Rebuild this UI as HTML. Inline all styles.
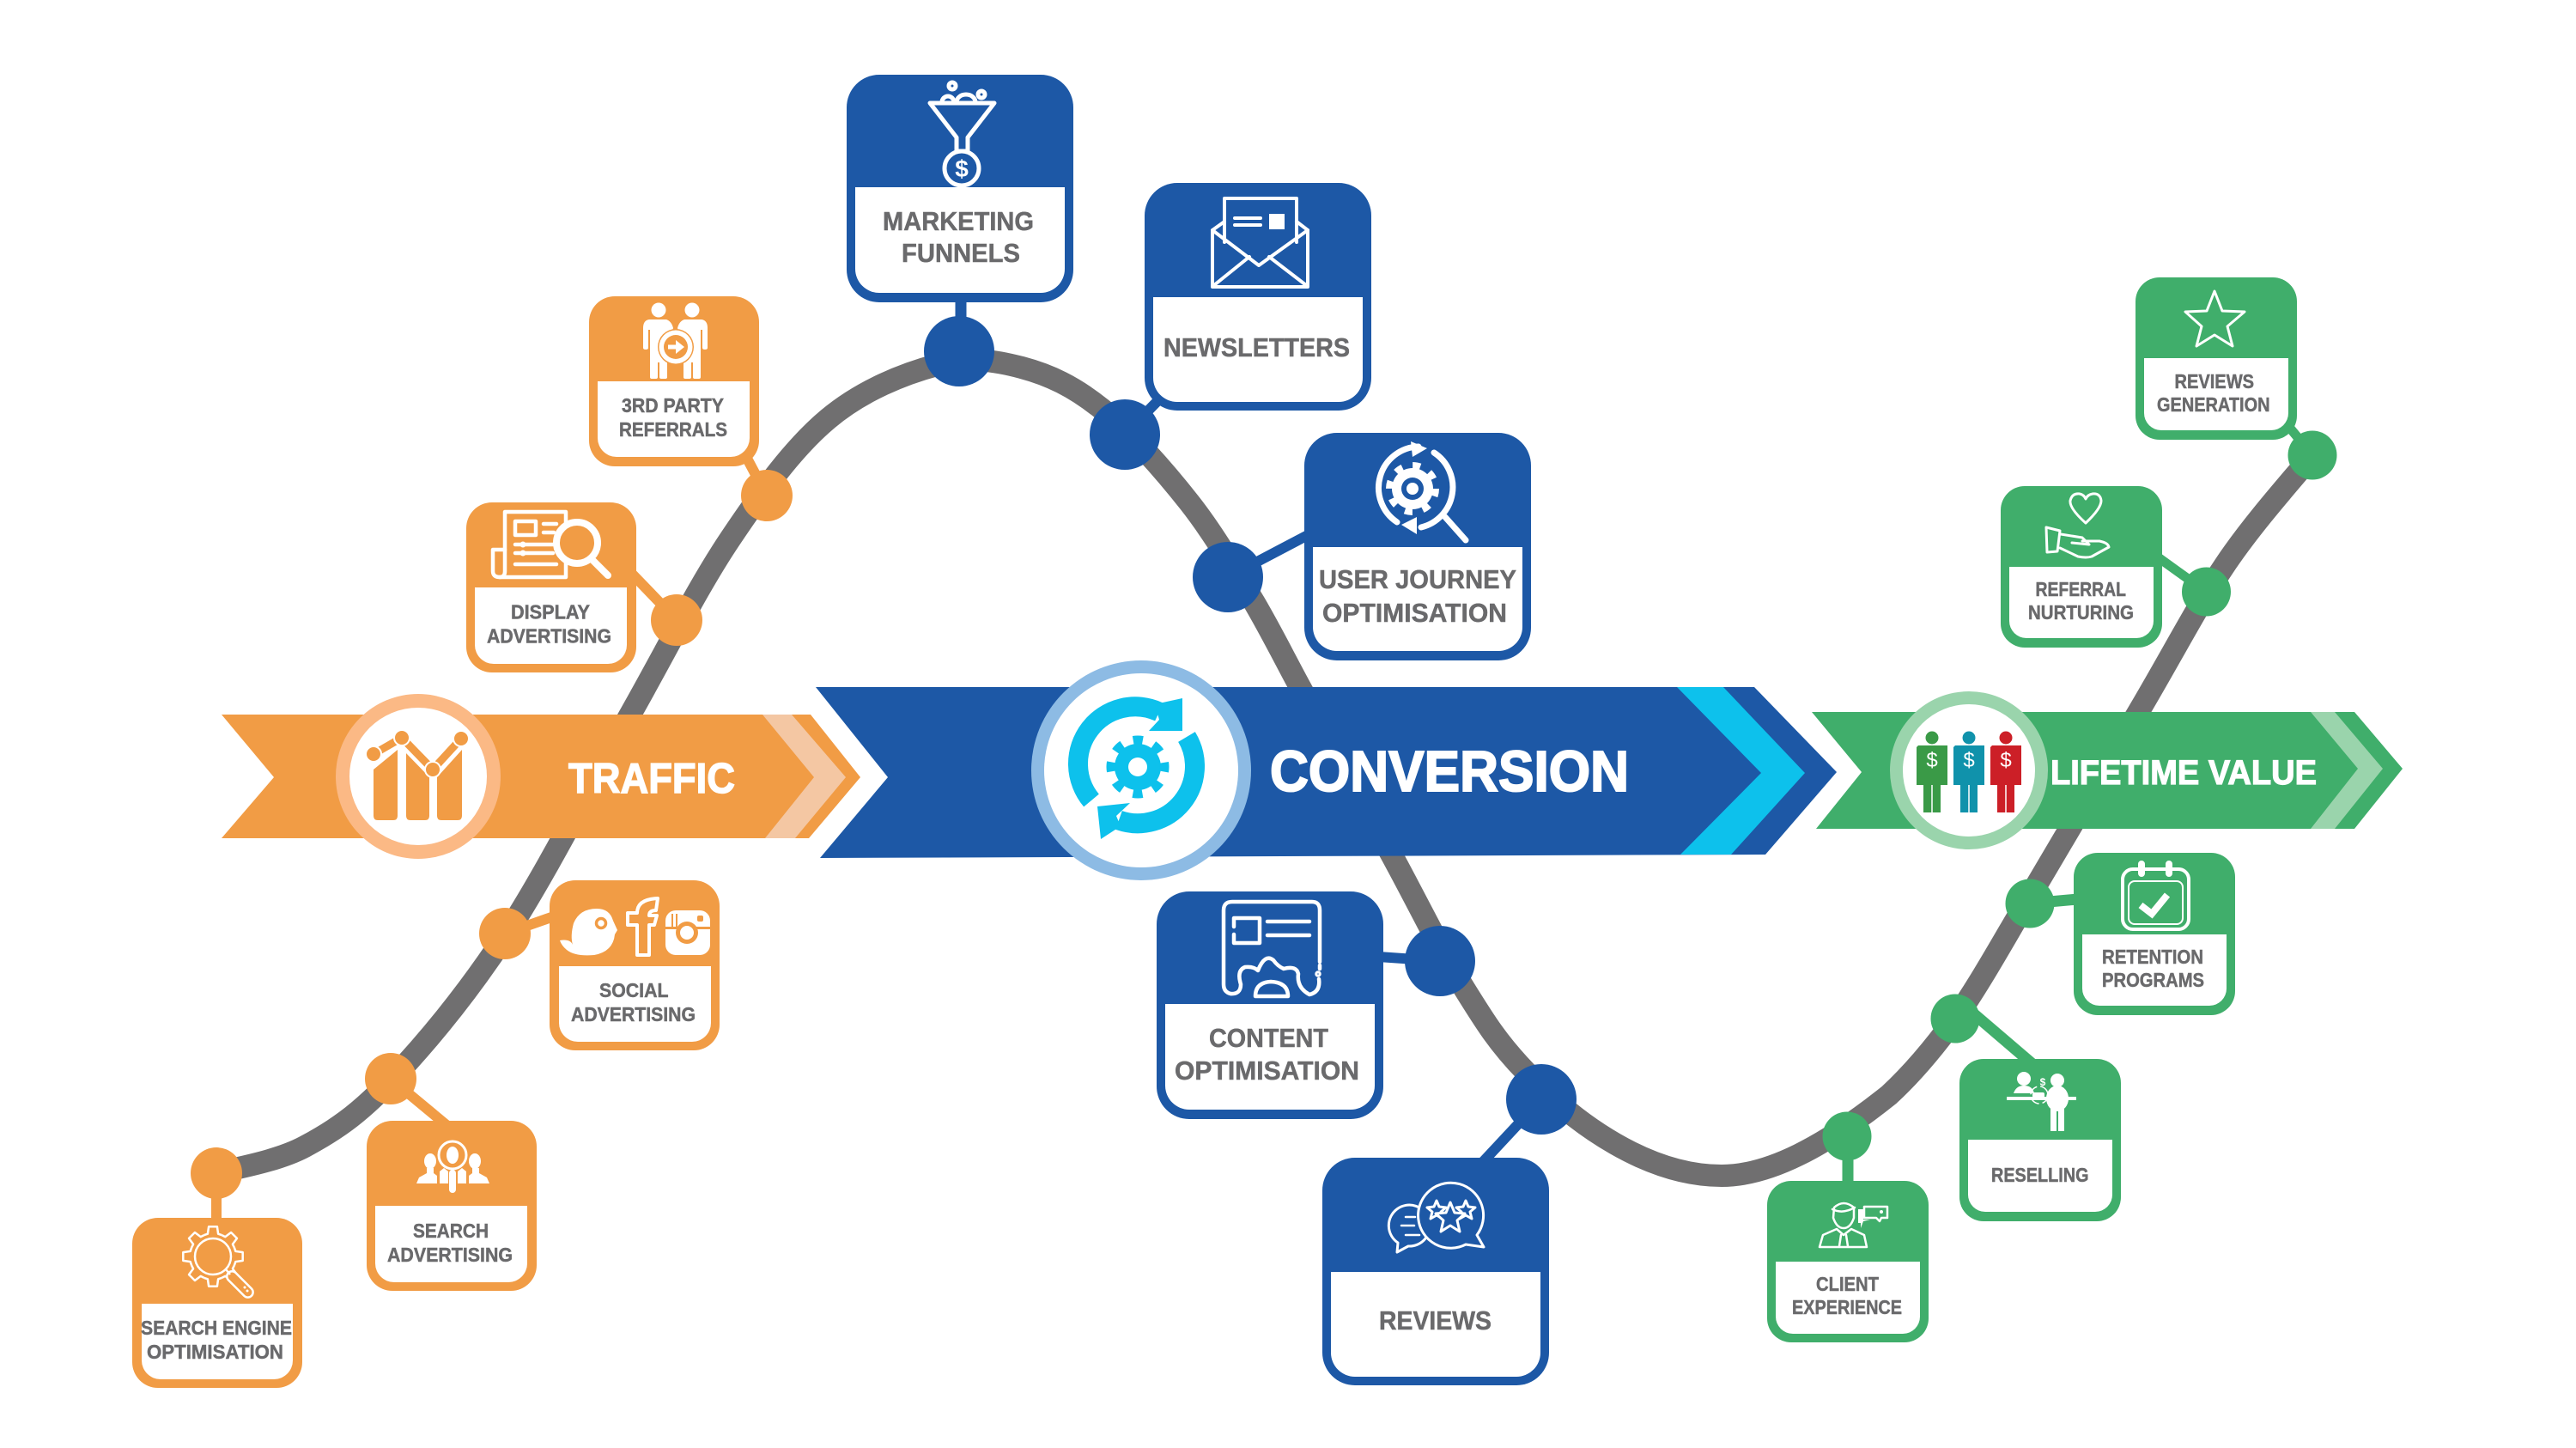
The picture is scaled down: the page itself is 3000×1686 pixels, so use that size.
<!DOCTYPE html>
<html><head><meta charset="utf-8"><style>
html,body{margin:0;padding:0;background:#fff}
svg{display:block}
text{font-family:"Liberation Sans Narrow","Liberation Sans",sans-serif;font-weight:700;fill:#6a6a6c;stroke:#6a6a6c;stroke-width:.5}
text.t{fill:#fff;stroke:#fff;stroke-width:1}
text.d{stroke-width:0}
.w{fill:#fff;stroke:none}
.i{fill:none;stroke:#fff;stroke-linecap:round;stroke-linejoin:round}
.f{fill:#fff;stroke:none}
</style></head><body>
<svg width="3000" height="1686" viewBox="0 0 3000 1686" xmlns="http://www.w3.org/2000/svg">
<rect width="3000" height="1686" fill="#fff"/>
<!-- curve -->
<path fill="none" stroke="#706f70" stroke-width="26" d="M252,1366 C269,1361 321.5,1353 355,1335 C388.5,1317 415.8,1299.3 455,1258 C494.2,1216.7 543.3,1158.3 590,1087 C636.7,1015.7 691.7,906.5 735,830 C778.3,753.5 811.8,685 850,628 C888.2,571 923.8,521.8 964,488 C1004.2,454.2 1053.3,435 1091,425 C1128.7,415 1158,419.5 1190,428 C1222,436.5 1250.5,449.8 1283,476 C1315.5,502.2 1355.3,547.3 1385,585 C1414.7,622.7 1439.5,666.2 1461,702 C1482,738 1495,765 1514,800 C1540.7,849 1589.3,937.8 1621,996 C1652.7,1054.2 1678,1107 1704,1149 C1730,1191 1745,1215 1777,1248 C1835,1310 1920,1369 2005,1369 C2060,1369 2125,1335 2200,1275 C2228.7,1248.5 2252.7,1219.5 2277,1186 C2301,1152 2325,1110 2346,1074 C2381.7,1014.3 2449.8,897.8 2491,828 C2532.2,758.2 2559.3,704.7 2593,655 C2626.7,605.3 2676.3,550.8 2693,530"/>

<!-- banners -->
<polygon fill="#f19c45" points="258,832 944,832 1002,905 942,976 258,976 319,905"/>
<polygon fill="#f4c7a3" points="888,832 922,832 985,905 926,976 891,976 948,905"/>
<polygon fill="#1d58a6" points="950,800 2043,800 2139,899 2056,995 955,999 1034,905"/>
<polygon fill="#0dc1ec" points="1953,800 2007,800 2102,900 2016,995 1957,995 2051,900"/>
<polygon fill="#40ae6b" points="2110,829 2742,829 2798,895 2742,965 2115,965 2168,899"/>
<polygon fill="#9ad4ac" points="2691,829 2719,829 2775,895 2719,965 2691,965 2746,895"/>

<!-- banner circles -->
<circle cx="487" cy="904" r="96" fill="#fbb985"/><circle cx="487" cy="904" r="80" fill="#fff"/>
<circle cx="1329" cy="897" r="128" fill="#8dbbe4"/><circle cx="1329" cy="897" r="113" fill="#fff"/>
<circle cx="2293" cy="897" r="92" fill="#9ad4ac"/><circle cx="2293" cy="897" r="77" fill="#fff"/>

<!-- traffic icon -->
<g fill="#f19c45">
<path d="M435,896 L463,873 V950 Q463,955 458,955 H440 Q435,955 435,950Z"/>
<path d="M473,873 L500,905 V950 Q500,955 495,955 H478 Q473,955 473,950Z"/>
<path d="M509,905 L538,873 V950 Q538,955 533,955 H514 Q509,955 509,950Z"/>
</g>
<polyline points="435,878 468,859 504,896 537,860" fill="none" stroke="#fff" stroke-width="18"/>
<polyline points="435,878 468,859 504,896 537,860" fill="none" stroke="#f19c45" stroke-width="9"/>
<g fill="#f19c45" stroke="#fff" stroke-width="2"><circle cx="435" cy="878" r="9"/><circle cx="468" cy="859" r="9"/><circle cx="504" cy="896" r="9"/><circle cx="537" cy="860" r="9"/></g>

<!-- conversion icon -->
<g fill="none" stroke="#0dc1ec" stroke-width="23">
<path d="M1271,932 A66.5,66.5 0 0 1 1350,829"/>
<path d="M1382,858 A66.5,66.5 0 0 1 1303,955"/>
</g>
<polygon fill="#0dc1ec" points="1377,813 1377,851 1338,851 1350,838 1345,820"/>
<polygon fill="#0dc1ec" points="1278,939 1316,935 1300,950 1305,962 1282,977"/>
<circle cx="1325" cy="893" r="27" fill="#0dc1ec"/>
<circle cx="1325" cy="893" r="31" fill="none" stroke="#0dc1ec" stroke-width="11" stroke-dasharray="11 13.35" stroke-dashoffset="5.5"/>
<circle cx="1325" cy="893" r="11" fill="#fff"/>

<!-- people icon -->
<g>
<g fill="#3a9a47"><circle cx="2250" cy="859" r="7.5"/><path d="M2234,868 H2268 V914 H2260 V946 H2240 V914 H2232 V870Z"/></g>
<g fill="#1092ab"><circle cx="2293" cy="859" r="7.5"/><path d="M2277,868 H2311 V914 H2303 V946 H2283 V914 H2275 V870Z"/></g>
<g fill="#cc1f27"><circle cx="2336" cy="859" r="7.5"/><path d="M2320,868 H2354 V914 H2346 V946 H2326 V914 H2318 V870Z"/></g>
<g stroke="#fff" stroke-width="1.5"><path d="M2250,914 V946 M2293,914 V946 M2336,914 V946"/></g>
<text x="2250" y="893" text-anchor="middle" font-size="24" class="t d" style="font-weight:400;stroke-width:0">$</text>
<text x="2293" y="893" text-anchor="middle" font-size="24" class="t d" style="font-weight:400;stroke-width:0">$</text>
<text x="2336" y="893" text-anchor="middle" font-size="24" class="t d" style="font-weight:400;stroke-width:0">$</text>
</g>

<!-- banner labels -->
<text class="t" x="662" y="923" font-size="49" textLength="194" lengthAdjust="spacingAndGlyphs" style="stroke-width:1.4">TRAFFIC</text>
<text class="t" x="1479" y="921" font-size="67" textLength="418" lengthAdjust="spacingAndGlyphs" style="stroke-width:2">CONVERSION</text>
<text class="t" x="2388" y="913" font-size="40" textLength="310" lengthAdjust="spacingAndGlyphs" style="stroke-width:1.2">LIFETIME VALUE</text>

<!-- connectors -->
<g stroke="#f19c45" stroke-width="12" fill="none">
<path d="M868,530 L893,577"/><path d="M735,667 L788,722"/><path d="M645,1067 L588,1087"/><path d="M520,1310 L455,1256"/><path d="M252,1366 V1425"/>
</g>
<g stroke="#1d58a6" stroke-width="12" fill="none">
<path d="M1119,345 V409" stroke-width="13"/><path d="M1350,465 L1310,506"/><path d="M1525,622 L1430,672"/><path d="M1605,1114 L1677,1119"/><path d="M1725,1355 L1795,1280"/>
</g>
<g stroke="#40ae6b" stroke-width="11" fill="none">
<path d="M2660,490 L2693,530"/><path d="M2512,648 L2569,689"/><path d="M2420,1047 L2364,1052" stroke-width="13"/><path d="M2290,1173 L2366,1238" stroke-width="13"/><path d="M2152,1323 V1380" stroke-width="13"/>
</g>

<!-- nodes -->
<g fill="#f19c45"><circle cx="893" cy="577" r="30"/><circle cx="788" cy="722" r="30"/><circle cx="588" cy="1087" r="30"/><circle cx="455" cy="1256" r="30"/><circle cx="252" cy="1366" r="30"/></g>
<g fill="#1d58a6"><circle cx="1117" cy="409" r="41"/><circle cx="1310" cy="506" r="41"/><circle cx="1430" cy="672" r="41"/><circle cx="1677" cy="1119" r="41"/><circle cx="1795" cy="1280" r="41"/></g>
<g fill="#40ae6b"><circle cx="2693" cy="530" r="28.5"/><circle cx="2569.5" cy="689" r="28.5"/><circle cx="2364" cy="1052" r="28.5"/><circle cx="2277" cy="1186" r="28.5"/><circle cx="2151" cy="1323" r="28.5"/></g>

<!-- ORANGE BOXES -->
<g fill="#f19c45">
<rect x="686" y="345" width="198" height="198" rx="30"/>
<rect x="543" y="585" width="198" height="198" rx="30"/>
<rect x="640" y="1025" width="198" height="198" rx="30"/>
<rect x="427" y="1305" width="198" height="198" rx="30"/>
<rect x="154" y="1418" width="198" height="198" rx="30"/>
</g>
<g class="w">
<path d="M696,444 H873 V510 A22,22 0 0 1 851,532 H718 A22,22 0 0 1 696,510Z"/>
<path d="M553,684 H730 V751 A22,22 0 0 1 708,773 H575 A22,22 0 0 1 553,751Z"/>
<path d="M651,1125 H828 V1191 A22,22 0 0 1 806,1213 H673 A22,22 0 0 1 651,1191Z"/>
<path d="M437,1404 H614 V1471 A22,22 0 0 1 592,1493 H459 A22,22 0 0 1 437,1471Z"/>
<path d="M165,1518 H341 V1584 A22,22 0 0 1 319,1606 H187 A22,22 0 0 1 165,1584Z"/>
</g>

<!-- BLUE BOXES -->
<g fill="#1d58a6">
<rect x="986" y="87" width="264" height="265" rx="38"/>
<rect x="1333" y="213" width="264" height="265" rx="38"/>
<rect x="1519" y="504" width="264" height="265" rx="38"/>
<rect x="1347" y="1038" width="264" height="265" rx="38"/>
<rect x="1540" y="1348" width="264" height="265" rx="38"/>
</g>
<g class="w">
<path d="M996,218 H1240 V313 A28,28 0 0 1 1212,341 H1024 A28,28 0 0 1 996,313Z"/>
<path d="M1343,346 H1587 V440 A28,28 0 0 1 1559,468 H1371 A28,28 0 0 1 1343,440Z"/>
<path d="M1529,637 H1773 V730 A28,28 0 0 1 1745,758 H1557 A28,28 0 0 1 1529,730Z"/>
<path d="M1357,1169 H1601 V1264 A28,28 0 0 1 1573,1292 H1385 A28,28 0 0 1 1357,1264Z"/>
<path d="M1550,1481 H1794 V1575 A28,28 0 0 1 1766,1603 H1578 A28,28 0 0 1 1550,1575Z"/>
</g>

<!-- GREEN BOXES -->
<g fill="#40ae6b">
<rect x="2487" y="323" width="188" height="189" rx="28"/>
<rect x="2330" y="566" width="188" height="188" rx="28"/>
<rect x="2415" y="993" width="188" height="189" rx="28"/>
<rect x="2282" y="1233" width="188" height="189" rx="28"/>
<rect x="2058" y="1375" width="188" height="188" rx="28"/>
</g>
<g class="w">
<path d="M2497,417 H2665 V481 A20,20 0 0 1 2645,501 H2517 A20,20 0 0 1 2497,481Z"/>
<path d="M2340,660 H2508 V723 A20,20 0 0 1 2488,743 H2360 A20,20 0 0 1 2340,723Z"/>
<path d="M2425,1088 H2593 V1151 A20,20 0 0 1 2573,1171 H2445 A20,20 0 0 1 2425,1151Z"/>
<path d="M2292,1327 H2460 V1391 A20,20 0 0 1 2440,1411 H2312 A20,20 0 0 1 2292,1391Z"/>
<path d="M2068,1469 H2236 V1533 A20,20 0 0 1 2216,1553 H2088 A20,20 0 0 1 2068,1533Z"/>
</g>

<!-- LABELS -->
<text x="1028" y="268" font-size="31" textLength="176" lengthAdjust="spacingAndGlyphs">MARKETING</text>
<text x="1050" y="305" font-size="31" textLength="138" lengthAdjust="spacingAndGlyphs">FUNNELS</text>
<text x="1355" y="415" font-size="31" textLength="217" lengthAdjust="spacingAndGlyphs">NEWSLETTERS</text>
<text x="1536" y="685" font-size="31" textLength="230" lengthAdjust="spacingAndGlyphs">USER JOURNEY</text>
<text x="1540" y="724" font-size="31" textLength="215" lengthAdjust="spacingAndGlyphs">OPTIMISATION</text>
<text x="1408" y="1219" font-size="31" textLength="139" lengthAdjust="spacingAndGlyphs">CONTENT</text>
<text x="1368" y="1257" font-size="31" textLength="215" lengthAdjust="spacingAndGlyphs">OPTIMISATION</text>
<text x="1606" y="1548" font-size="31" textLength="131" lengthAdjust="spacingAndGlyphs">REVIEWS</text>
<text x="724" y="480" font-size="23.5" textLength="119" lengthAdjust="spacingAndGlyphs">3RD PARTY</text>
<text x="721" y="508" font-size="23.5" textLength="126" lengthAdjust="spacingAndGlyphs">REFERRALS</text>
<text x="595" y="720.5" font-size="23.5" textLength="92" lengthAdjust="spacingAndGlyphs">DISPLAY</text>
<text x="567" y="748.5" font-size="23.5" textLength="145" lengthAdjust="spacingAndGlyphs">ADVERTISING</text>
<text x="698" y="1161" font-size="23.5" textLength="80.5" lengthAdjust="spacingAndGlyphs">SOCIAL</text>
<text x="665" y="1189" font-size="23.5" textLength="145" lengthAdjust="spacingAndGlyphs">ADVERTISING</text>
<text x="481" y="1441" font-size="23.5" textLength="88" lengthAdjust="spacingAndGlyphs">SEARCH</text>
<text x="451" y="1469" font-size="23.5" textLength="146" lengthAdjust="spacingAndGlyphs">ADVERTISING</text>
<text x="164" y="1554" font-size="23.5" textLength="176" lengthAdjust="spacingAndGlyphs">SEARCH ENGINE</text>
<text x="171" y="1582" font-size="23.5" textLength="159" lengthAdjust="spacingAndGlyphs">OPTIMISATION</text>
<text x="2532.5" y="452" font-size="23" textLength="92.5" lengthAdjust="spacingAndGlyphs">REVIEWS</text>
<text x="2512" y="479" font-size="23" textLength="131.5" lengthAdjust="spacingAndGlyphs">GENERATION</text>
<text x="2370.5" y="694" font-size="23" textLength="105.5" lengthAdjust="spacingAndGlyphs">REFERRAL</text>
<text x="2362" y="721" font-size="23" textLength="123" lengthAdjust="spacingAndGlyphs">NURTURING</text>
<text x="2448" y="1122" font-size="23" textLength="118" lengthAdjust="spacingAndGlyphs">RETENTION</text>
<text x="2448" y="1149" font-size="23" textLength="119" lengthAdjust="spacingAndGlyphs">PROGRAMS</text>
<text x="2319" y="1376" font-size="23" textLength="113.5" lengthAdjust="spacingAndGlyphs">RESELLING</text>
<text x="2115" y="1503" font-size="23" textLength="73" lengthAdjust="spacingAndGlyphs">CLIENT</text>
<text x="2087" y="1530" font-size="23" textLength="128" lengthAdjust="spacingAndGlyphs">EXPERIENCE</text>

<!-- ICONS -->
<!-- 3rd party -->
<g class="f">
<circle cx="767" cy="361" r="8.5"/><circle cx="806" cy="361" r="8.5"/>
<path d="M756,372 H776 Q782,374 784,382 L777,400 V439 Q777,441 775,441 H770 Q768,441 768,439 V422 H766 V439 Q766,441 764,441 H759 Q757,441 757,439 V384 H755 V405 Q755,407 752,407 Q749,407 749,405 V382 Q749,373 756,372Z"/>
<path d="M756,372 H776 Q782,374 784,382 L777,400 V439 Q777,441 775,441 H770 Q768,441 768,439 V422 H766 V439 Q766,441 764,441 H759 Q757,441 757,439 V384 H755 V405 Q755,407 752,407 Q749,407 749,405 V382 Q749,373 756,372Z" transform="translate(1573,0) scale(-1,1)"/>
</g>
<circle cx="787" cy="404" r="21" fill="#f19c45"/><circle cx="787" cy="404" r="19.5" fill="#fff"/><circle cx="787" cy="404" r="14" fill="#f19c45"/>
<path d="M778,404 H790" fill="none" stroke="#fff" stroke-width="5"/><polygon class="f" points="787,396 797,404 787,412"/>
<!-- display -->
<g class="i" stroke-width="4.5">
<path d="M588,640 V596 H659 V672 H582"/>
<path d="M588,640 H574 V665 Q574,672 582,672 Q588,672 588,665Z"/>
<rect x="600" y="607" width="24" height="16"/>
<path d="M633,610 H648 M633,620 H645 M600,634 H644 M600,644 H644 M600,657 H648"/>
<circle cx="672" cy="632" r="24" stroke-width="8" fill="#f19c45"/>
<path d="M690,652 L708,670" stroke-width="8"/>
</g>
<circle class="f" cx="609" cy="634" r="3.5"/><circle class="f" cx="609" cy="644" r="3.5"/>
<!-- social -->
<path class="f" d="M652,1095 Q664,1093 667,1100 Q664,1090 668,1075 Q675,1058 695,1058 Q710,1058 714,1072 L719,1083 L716,1088 Q714,1108 692,1112 Q670,1114 660,1106 Q654,1101 652,1095Z"/>
<circle cx="700" cy="1075" r="5.5" fill="#fff" stroke="#f19c45" stroke-width="3.5"/>
<path class="i" stroke-width="4" d="M742,1112 V1077 H731 V1063 H742 Q742,1047 766,1046 L764,1060 Q756,1060 756,1066 H765 L762,1077 H756 V1112Z"/>
<rect class="f" x="775" y="1060" width="52" height="52" rx="12"/>
<rect x="775" y="1079" width="52" height="3" fill="#f19c45"/>
<circle cx="800" cy="1086" r="13" fill="#f19c45"/><circle cx="800" cy="1086" r="8" fill="#fff"/>
<rect x="812" y="1066" width="7" height="7" rx="2" fill="#f19c45"/>
<path d="M783,1064 V1079 M788,1064 V1079" stroke="#f19c45" stroke-width="2"/>
<!-- search advertising -->
<g class="f">
<ellipse cx="501" cy="1352" rx="7" ry="9"/><ellipse cx="553" cy="1352" rx="7" ry="9"/>
<path d="M485,1378 L488,1371 L497,1366 V1360 H505 V1366 L509,1369 V1378Z"/>
<path d="M570,1378 L567,1371 L558,1366 V1360 H550 V1366 L546,1369 V1378Z"/>
<path d="M512,1378 V1364 L517,1360 L522,1364 V1378Z"/><path d="M533,1378 V1364 L538,1360 L543,1364 V1378Z"/>
<rect x="523" y="1362" width="8" height="27" rx="4"/>
<ellipse cx="527" cy="1345" rx="7" ry="10"/>
</g>
<circle cx="527" cy="1345" r="16" fill="none" stroke="#fff" stroke-width="3"/>
<!-- SEO -->
<g fill="none" stroke="#fff" stroke-width="2.5" stroke-linejoin="round">
<path d="M272.9,1452.7 L274.3,1456.9 L282.7,1458.1 V1467.9 L274.3,1469.1 L272.9,1473.3"/>
<path d="M272.9,1452.7 L274.3,1456.9 L282.7,1458.1 V1467.9 L274.3,1469.1 L272.9,1473.3" transform="rotate(45 248 1463)"/>
<path d="M272.9,1452.7 L274.3,1456.9 L282.7,1458.1 V1467.9 L274.3,1469.1 L272.9,1473.3" transform="rotate(90 248 1463)"/>
<path d="M272.9,1452.7 L274.3,1456.9 L282.7,1458.1 V1467.9 L274.3,1469.1 L272.9,1473.3" transform="rotate(135 248 1463)"/>
<path d="M272.9,1452.7 L274.3,1456.9 L282.7,1458.1 V1467.9 L274.3,1469.1 L272.9,1473.3" transform="rotate(180 248 1463)"/>
<path d="M272.9,1452.7 L274.3,1456.9 L282.7,1458.1 V1467.9 L274.3,1469.1 L272.9,1473.3" transform="rotate(225 248 1463)"/>
<path d="M272.9,1452.7 L274.3,1456.9 L282.7,1458.1 V1467.9 L274.3,1469.1 L272.9,1473.3" transform="rotate(270 248 1463)"/>
<path d="M272.9,1452.7 L274.3,1456.9 L282.7,1458.1 V1467.9 L274.3,1469.1 L272.9,1473.3" transform="rotate(315 248 1463)"/>
<circle cx="248" cy="1463" r="21" fill="#f19c45"/>
<rect x="0" y="-6" width="38" height="12" rx="6" fill="#f19c45" transform="translate(266,1482) rotate(45)"/>
<path d="M263,1478 L268,1484"/>
</g>
<circle class="f" cx="285" cy="1499" r="1.5"/><circle class="f" cx="288" cy="1503" r="1.5"/>
<!-- funnel -->
<g class="i" stroke-width="5">
<path d="M1083,120 H1158 L1127,160 V176 H1114 V160Z"/>
<path d="M1097,119 A7,7 0 0 1 1111,119 M1114,119 A11,9 0 0 1 1136,119"/>
<circle cx="1109" cy="100" r="4"/><circle cx="1143" cy="110" r="4"/>
<circle cx="1120" cy="196" r="20"/>
</g>
<text x="1120" y="206" text-anchor="middle" font-size="28" class="t" style="stroke-width:0">$</text>
<!-- envelope -->
<g class="i" stroke-width="4">
<path d="M1426,282 V231 H1510 V282"/>
<path d="M1412,268 L1426,258 M1523,268 L1510,258"/>
<path d="M1412,268 V334 H1523 V268 L1466,309Z"/>
<path d="M1414,332 L1455,299 M1521,332 L1478,299"/>
<path d="M1438,254 H1468 M1438,262 H1468"/>
</g>
<rect class="f" x="1478" y="249" width="18" height="18"/>
<!-- user journey -->
<g class="i" stroke-width="7" stroke-linecap="butt">
<path d="M1627,608 A48,48 0 0 1 1652,520"/>
<path d="M1670,527 A48,48 0 0 1 1655,614"/>
</g>
<polygon class="f" points="1643,514 1662,522 1645,532"/>
<polygon class="f" points="1632,611 1650,602 1650,622"/>
<circle cx="1645" cy="569" r="24" fill="#fff"/>
<circle cx="1645" cy="569" r="27" fill="none" stroke="#fff" stroke-width="8" stroke-dasharray="9 12.2"/>
<circle cx="1645" cy="569" r="13" fill="#1d58a6"/><circle cx="1645" cy="569" r="7" fill="#fff"/>
<path class="i" stroke-width="7" d="M1683,602 L1707,629"/>
<!-- content -->
<g class="i" stroke-width="4.5">
<path d="M1433,1157 Q1425,1155 1425,1146 V1060 Q1425,1050 1435,1050 H1528 Q1537,1050 1537,1060 V1120"/>
<path d="M1437,1069 H1467 V1098 H1437 V1088 M1437,1079 V1069"/>
<path d="M1476,1073 H1525 M1476,1089 H1525"/>
<path d="M1433,1157 Q1445,1158 1445,1146 Q1440,1130 1450,1126 Q1460,1125 1465,1130 Q1473,1110 1483,1118 Q1488,1125 1495,1128 Q1510,1124 1512,1134 Q1510,1150 1525,1158 Q1538,1155 1536,1140"/>
<path d="M1462,1160 Q1462,1144 1480,1143 Q1500,1144 1500,1160Z"/>
<circle cx="1535" cy="1134" r="1.5"/><path d="M1537,1124 V1128"/>
</g>
<!-- reviews icon -->
<g class="i" stroke-width="3">
<path d="M1640,1451 L1627,1458 L1628,1447 A24,24 0 1 1 1640,1451Z"/>
<path d="M1637,1417 H1648 M1632,1427 H1647 M1637,1438 H1653" stroke-width="2.5"/>
<path d="M1707,1449 A38,38 0 1 1 1720,1438 L1728,1452Z" fill="#1d58a6"/>
<polygon points="1673,1398 1676,1405 1684,1406 1678,1411 1680,1419 1673,1415 1666,1419 1668,1411 1662,1406 1670,1405"/>
<polygon points="1707,1398 1710,1405 1718,1406 1712,1411 1714,1419 1707,1415 1700,1419 1702,1411 1696,1406 1704,1405"/>
<polygon fill="#1d58a6" points="1689,1400 1694,1412 1706,1413 1697,1421 1700,1434 1689,1427 1678,1434 1681,1421 1672,1413 1684,1412"/>
</g>
<!-- star -->
<polygon fill="none" stroke="#fff" stroke-width="3" stroke-linejoin="round" points="2579,339 2588,362 2614,363 2594,380 2600,403 2579,390 2558,403 2564,380 2545,363 2570,362"/>
<!-- heart hand -->
<g class="i" stroke-width="3">
<path d="M2429,609 Q2410,592 2411,583 Q2413,574 2422,575 Q2427,576 2429,581 Q2431,576 2437,575 Q2446,574 2447,583 Q2447,592 2429,609Z"/>
<path d="M2383,614 L2399,618 L2396,642 L2384,643Z"/>
<path d="M2400,622 L2425,626 L2433,634 L2413,632 M2425,630 L2445,630 Q2455,632 2456,637 L2436,648 Q2430,650 2420,648 L2399,638"/>
</g>
<!-- calendar -->
<rect x="2472" y="1012" width="77" height="70" rx="12" fill="none" stroke="#fff" stroke-width="4"/>
<rect x="2479" y="1026" width="63" height="50" rx="7" fill="none" stroke="#fff" stroke-width="2"/>
<path d="M2494,1006 V1017 M2526,1006 V1017" stroke="#fff" stroke-width="8" stroke-linecap="round"/>
<path d="M2493,1054 L2506,1064 L2524,1042" fill="none" stroke="#fff" stroke-width="8"/>
<!-- reselling -->
<g class="f">
<circle cx="2357" cy="1256" r="8"/><path d="M2345,1273 Q2348,1264 2357,1264 Q2367,1264 2369,1273Z"/>
<rect x="2337" y="1277" width="81" height="4"/>
<circle cx="2396" cy="1258" r="8"/><ellipse cx="2396" cy="1279" rx="13" ry="15"/>
<rect x="2388" y="1290" width="7" height="27"/><rect x="2397" y="1290" width="7" height="27"/>
<rect x="2367" y="1272" width="14" height="6" rx="2"/>
</g>
<circle cx="2375" cy="1275" r="10" fill="none" stroke="#fff" stroke-width="1.5" stroke-dasharray="12 4"/>
<text x="2379" y="1264" text-anchor="middle" font-size="12" class="t" style="stroke-width:0">$</text>
<!-- client -->
<g class="i" stroke-width="2.5">
<path d="M2136,1406 Q2147,1396 2159,1406 V1418 Q2155,1430 2147,1430 Q2139,1430 2135,1418Z"/>
<path d="M2134,1408 Q2146,1414 2160,1406"/>
<path d="M2119,1452 L2123,1438 L2139,1431 L2147,1438 L2156,1431 L2171,1438 L2174,1452Z"/>
<path d="M2144,1438 L2142,1451 M2150,1438 L2152,1451"/>
<path d="M2171,1405 H2198 V1418 H2191 L2189,1422 L2185,1418 H2171Z"/>
</g>
<path class="f" d="M2164,1408 H2170 V1420 H2178 L2170,1422 L2167,1430 V1424 H2164Z"/>
<circle cx="2191" cy="1411" r="2" class="f"/>
</svg>
</body></html>
